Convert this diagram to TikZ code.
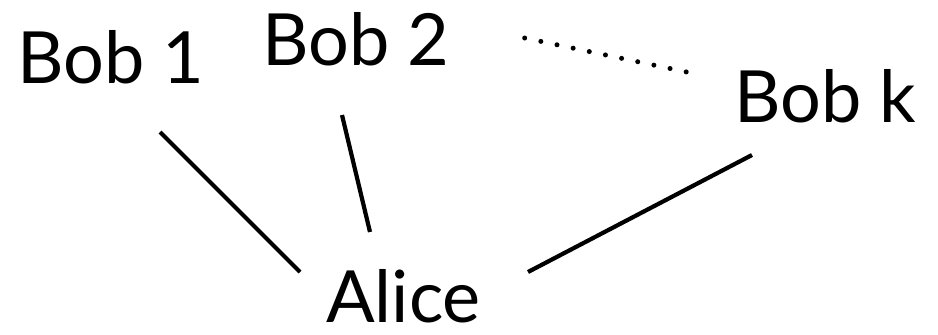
\documentclass[tikz,border=0pt]{standalone}
\usepackage{fontspec}
\setmainfont{Lato}
\begin{document}
\begin{tikzpicture}[x=1pt,y=-1pt,
  lbl/.style={anchor=base west,inner sep=0pt,text depth=0pt,font=\fontsize{72}{80}\selectfont},
  link/.style={line width=4.2pt},
  farlink/.style={line width=5pt,line cap=round,dash pattern=on 0pt off 16.5pt}]
\useasboundingbox (0,0) rectangle (938,335);
\node[lbl] (b1) at (17,83) {Bob 1};
\node[lbl] (b2) at (262,65) {Bob 2};
\node[lbl] (bk) at (734,122) {Bob k};
\node[lbl] (al) at (326,322) {Alice};
\coordinate (b1e) at (160,132);
\coordinate (a1) at (300,272);
\coordinate (b2e) at (342,115);
\coordinate (a2) at (370,232);
\coordinate (bke) at (752,155);
\coordinate (a3) at (528,272);
\coordinate (d1) at (524.7,38);
\coordinate (d2) at (690,72.7);
\draw[link] (b1e) -- (a1);
\draw[link] (b2e) -- (a2);
\draw[link] (bke) -- (a3);
\draw[farlink] (d1) -- (d2);
\end{tikzpicture}
\end{document}
